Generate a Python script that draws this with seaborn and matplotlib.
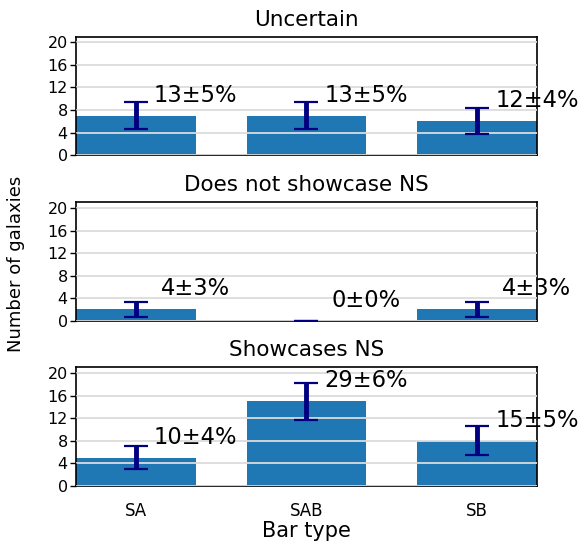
import matplotlib
matplotlib.use("Agg")
import matplotlib.pyplot as plt
import seaborn as sns
import pandas as pd

# ---- data ----
bar_types = ["SA", "SAB", "SB"]
panel_titles = ["Uncertain", "Does not showcase NS", "Showcases NS"]

uncertain_counts = [7, 7, 6]
not_ns_counts = [2, 0, 2]
ns_counts = [5, 15, 8]

uncertain_err = [2.45, 2.45, 2.3]
not_ns_err = [1.4, 0.0, 1.4]
ns_err = [2.1, 3.25, 2.6]

uncertain_labels = ["13±5%", "13±5%", "12±4%"]
not_ns_labels = ["4±3%", "0±0%", "4±3%"]
ns_labels = ["10±4%", "29±6%", "15±5%"]

counts = [uncertain_counts, not_ns_counts, ns_counts]
errors = [uncertain_err, not_ns_err, ns_err]
labels = [uncertain_labels, not_ns_labels, ns_labels]

sns.set_style("ticks", {"text.color": "black", "axes.labelcolor": "black",
                        "xtick.color": "black", "ytick.color": "black",
                        "axes.edgecolor": "black"})
plt.rcParams["font.family"] = ["DejaVu Sans"]

fig = plt.figure(figsize=(5.82, 5.44), dpi=100)

# axes boxes (left, bottom, width, height) in figure fractions
rects = [
    [0.1306, 0.715, 0.792, 0.2175],
    [0.1306, 0.4105, 0.792, 0.2175],
    [0.1306, 0.107, 0.792, 0.2175],
]

for k in range(3):
    ax = fig.add_axes(rects[k])
    df = pd.DataFrame({"type": bar_types, "count": counts[k]})
    sns.barplot(data=df, x="type", y="count", color="#1f77b4",
                saturation=1, width=0.7, linewidth=0, ax=ax)
    ax.errorbar(range(len(bar_types)), counts[k], yerr=errors[k], fmt="none",
                ecolor="navy", elinewidth=3.5, capsize=8.5, capthick=1.6, zorder=4)
    for i, lab in enumerate(labels[k]):
        ax.text(i + 0.35, counts[k][i] + 2.5, lab, ha="center",
                va="baseline", fontsize=16.3, zorder=5)

    ax.set_xlim(-0.35, 2.35)
    ax.set_ylim(0, 21)
    ax.set_yticks(range(0, 21, 4))
    ax.grid(axis="y", color="#dcdcdc", linewidth=1.3)
    ax.set_axisbelow(False)
    ax.set_xlabel("")
    ax.set_ylabel("")
    ax.set_title(panel_titles[k], fontsize=15.5, pad=8)
    ax.tick_params(axis="y", labelsize=11.5, length=4, width=1, pad=2)
    ax.tick_params(axis="x", length=0, labelsize=12, pad=12)
    if k < 2:
        ax.set_xticklabels([])
    for sp in ax.spines.values():
        sp.set_visible(True)
        sp.set_color("black")
        sp.set_linewidth(1.2)

fig.text(0.027, 0.515, "Number of galaxies", rotation=90,
         ha="center", va="center", fontsize=13)
fig.text(0.527, 0.024, "Bar type", ha="center", va="center", fontsize=15)

fig.savefig("out.png", dpi=100)
